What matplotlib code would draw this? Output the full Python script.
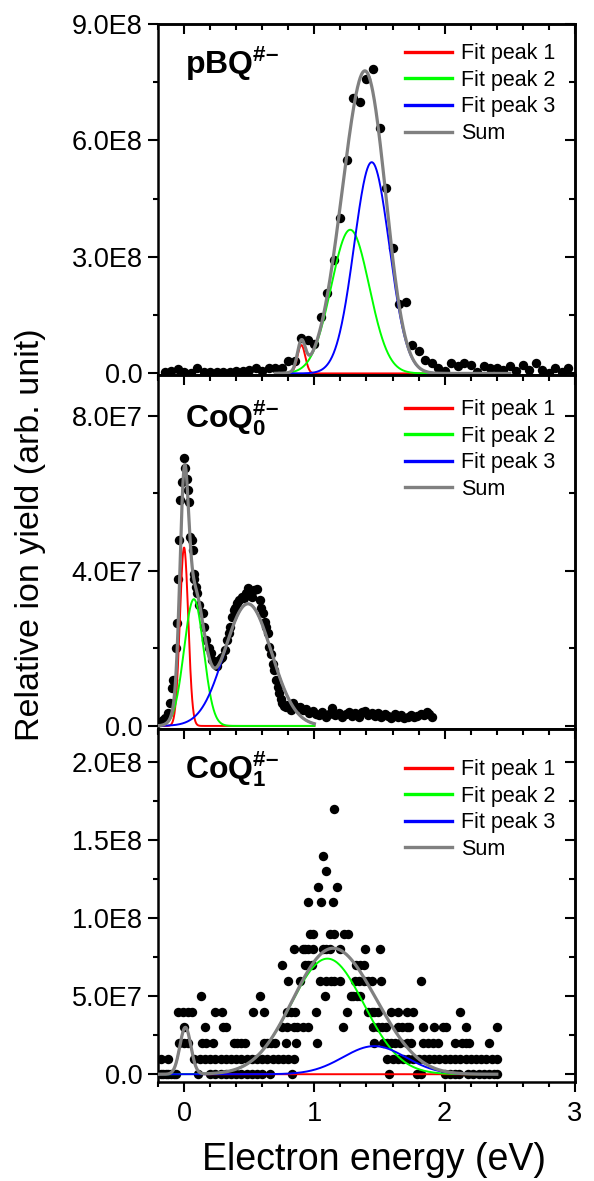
import numpy as np
import matplotlib
matplotlib.use("Agg")
import matplotlib.pyplot as plt
from matplotlib.ticker import MultipleLocator, FuncFormatter, NullFormatter

plt.rcParams["font.family"] = ["Liberation Sans", "DejaVu Sans"]
plt.rcParams["mathtext.fontset"] = "custom"
plt.rcParams["mathtext.rm"] = "Liberation Sans"
plt.rcParams["mathtext.bf"] = "Liberation Sans:bold"
plt.rcParams["mathtext.it"] = "Liberation Sans:italic"

# ---------------------------------------------------------------
# pBQ (top panel), values in 1E8
# ---------------------------------------------------------------
pbq_x = [-0.15, -0.10, -0.05, 0.00, 0.05, 0.10, 0.15, 0.20, 0.25, 0.30,
         0.35, 0.40, 0.45, 0.50, 0.55, 0.60, 0.65, 0.70, 0.75, 0.80,
         0.85, 0.90, 0.95, 1.00, 1.05, 1.10, 1.15, 1.20, 1.25, 1.30,
         1.35, 1.40, 1.45, 1.50, 1.55, 1.60, 1.65, 1.70, 1.75, 1.80,
         1.85, 1.90, 1.95, 2.00, 2.05, 2.10, 2.15, 2.20, 2.25, 2.30,
         2.35, 2.40, 2.45, 2.50, 2.55, 2.60, 2.65, 2.70, 2.75, 2.80,
         2.85, 2.90, 2.95]
pbq_y = [0.03, 0.05, 0.11, 0.03, 0.00, 0.15, 0.03, 0.03, 0.03, 0.03,
         0.03, 0.05, 0.07, 0.09, 0.15, 0.07, 0.15, 0.15, 0.15, 0.31,
         0.33, 0.91, 0.86, 0.76, 1.46, 2.07, 2.93, 4.00, 5.49, 7.10,
         7.00, 7.57, 7.85, 6.33, 4.77, 3.23, 1.79, 1.83, 0.73, 0.57,
         0.34, 0.28, 0.13, 0.07, 0.28, 0.20, 0.26, 0.22, 0.04, 0.20,
         0.13, 0.13, 0.09, 0.20, 0.07, 0.22, 0.09, 0.28, 0.09, 0.00,
         0.15, 0.03, 0.15]
# gaussian fit peaks: (centre eV, amplitude, sigma eV)
pbq_peaks = [(0.90, 0.73e8, 0.030), (1.275, 3.70e8, 0.146), (1.44, 5.44e8, 0.135)]
pbq_fit_range = (0.70, 2.50)

# ---------------------------------------------------------------
# CoQ0 (middle panel), values in 1E7
# ---------------------------------------------------------------
coq0_x = [-0.183, -0.165, -0.145, -0.12, -0.105, -0.095, -0.083, -0.063, -0.058, -0.05,
          -0.038, -0.028, -0.013, -0.003, 0.01, 0.023, 0.03, 0.038, 0.048, 0.06,
          0.068, 0.073, 0.08, 0.088, 0.10, 0.118, 0.143, 0.155, 0.168, 0.188,
          0.205, 0.218, 0.243, 0.255, 0.268, 0.28, 0.293, 0.313, 0.33, 0.343,
          0.355, 0.368, 0.38, 0.393, 0.405, 0.423, 0.443, 0.458, 0.473, 0.493,
          0.505, 0.518, 0.54, 0.563, 0.58, 0.593, 0.605, 0.618, 0.63, 0.643,
          0.655, 0.668, 0.68, 0.693, 0.705, 0.718, 0.73, 0.743, 0.755, 0.768,
          0.78, 0.80, 0.818, 0.838, 0.86, 0.888, 0.91, 0.938, 0.96, 0.988,
          1.01, 1.038, 1.06, 1.088, 1.11, 1.138, 1.16, 1.188, 1.21, 1.24,
          1.265, 1.29, 1.315, 1.34, 1.365, 1.39, 1.415, 1.44, 1.465, 1.49,
          1.515, 1.54, 1.565, 1.59, 1.615, 1.64, 1.665, 1.69, 1.715, 1.74,
          1.765, 1.79, 1.815, 1.84, 1.865, 1.88, 1.90]
coq0_y = [0.11, 0.15, 0.20, 0.33, 0.60, 0.97, 1.18, 2.00, 2.65, 3.78,
          4.79, 5.82, 6.29, 6.92, 6.64, 6.38, 6.08, 5.78, 4.88, 4.79,
          4.53, 3.93, 3.80, 3.59, 3.42, 3.12, 2.90, 2.56, 2.22, 2.00,
          1.87, 1.70, 1.61, 1.55, 1.70, 1.75, 1.79, 1.96, 2.22, 2.40,
          2.56, 2.80, 2.99, 3.05, 3.16, 3.25, 3.33, 3.30, 3.42, 3.55,
          3.45, 3.33, 3.50, 3.52, 3.25, 3.05, 2.90, 2.69, 2.55, 2.39,
          2.04, 1.85, 1.60, 1.44, 1.18, 1.00, 0.84, 0.70, 0.58, 0.52,
          0.50, 0.55, 0.42, 0.58, 0.48, 0.50, 0.40, 0.44, 0.33, 0.38,
          0.30, 0.28, 0.36, 0.24, 0.32, 0.46, 0.27, 0.33, 0.24, 0.31,
          0.36, 0.26, 0.34, 0.24, 0.35, 0.39, 0.27, 0.34, 0.25, 0.33,
          0.24, 0.31, 0.26, 0.21, 0.30, 0.22, 0.27, 0.20, 0.24, 0.29,
          0.22, 0.25, 0.30, 0.27, 0.37, 0.31, 0.22]
coq0_peaks = [(0.00, 4.60e7, 0.032), (0.075, 3.27e7, 0.075), (0.49, 3.15e7, 0.18)]
coq0_fit_range = (-0.20, 1.00)

# ---------------------------------------------------------------
# CoQ1 (bottom panel): x positions of the points on each count level
# (level n means n x 1E7)
# ---------------------------------------------------------------
coq1_rows = [
    [-0.18, -0.16, -0.14, -0.12, -0.10, -0.08, -0.06, 0.11, 0.20, 0.24, 0.28, 0.32,
     0.36, 0.40, 0.44, 0.48, 0.52, 0.56, 0.60, 0.66, 0.83, 1.57, 1.79, 1.82,
     2.00, 2.04, 2.08, 2.11, 2.18, 2.22, 2.26, 2.30, 2.34, 2.38, 2.40],
    [-0.18, -0.12, 0.08, 0.12, 0.16, 0.20, 0.24, 0.28, 0.32, 0.36, 0.40, 0.44,
     0.48, 0.52, 0.56, 0.60, 0.64, 0.68, 0.72, 0.76, 0.80, 0.84,
     1.56, 1.60, 1.64, 1.68, 1.72, 1.76, 1.80, 1.84, 1.88, 1.92, 1.96, 2.00,
     2.04, 2.08, 2.12, 2.16, 2.20, 2.24, 2.28, 2.32, 2.36, 2.40],
    [-0.04, 0.00, 0.03, 0.14, 0.17, 0.22, 0.38, 0.41, 0.44, 0.47, 0.61, 0.64,
     0.67, 0.70, 0.78, 0.86, 1.02, 1.46, 1.53, 1.56, 1.59, 1.62, 1.66, 1.71,
     1.74, 1.83, 1.87, 1.91, 1.95, 2.08, 2.13, 2.16, 2.19, 2.34],
    [0.00, 0.16, 0.30, 0.32, 0.75, 0.79, 0.84, 0.87, 0.91, 0.95, 1.22, 1.45,
     1.49, 1.52, 1.55, 1.64, 1.67, 1.71, 1.73, 1.83, 1.92, 1.99, 2.01, 2.16, 2.40],
    [-0.05, -0.01, 0.03, 0.06, 0.24, 0.29, 0.53, 0.61, 0.79, 0.82, 0.85, 1.01,
     1.25, 1.41, 1.44, 1.46, 1.49, 1.59, 1.64, 1.71, 1.76, 2.12],
    [0.13, 0.58, 1.08, 1.28, 1.30, 1.33, 1.35],
    [0.80, 0.89, 1.04, 1.09, 1.13, 1.15, 1.20, 1.31, 1.34, 1.38, 1.41, 1.44,
     1.51, 1.82],
    [0.75, 0.93, 0.95, 0.98, 1.32, 1.35, 1.38],
    [0.84, 0.91, 0.93, 0.95, 0.99, 1.07, 1.09, 1.12, 1.20, 1.39, 1.50],
    [0.97, 0.99, 1.12, 1.15, 1.23, 1.26],
    [],
    [0.95, 1.05, 1.14],
    [1.03, 1.17],
    [1.09],
    [1.07],
    [],
    [],
    [1.15],
]
coq1_step = 1e7
coq1_peaks = [(0.01, 3.0e7, 0.042), (1.10, 7.4e7, 0.28), (1.46, 1.8e7, 0.24)]
coq1_fit_range = (-0.20, 2.40)

fit_colors = ["#FF0000", "#00FF00", "#0000FF"]
sum_color = "#808080"
labels = ["Fit peak 1", "Fit peak 2", "Fit peak 3", "Sum"]
DOT = 46


def sci_fmt(v, pos):
    if abs(v) < 1:
        return "0.0"
    e = int(np.floor(np.log10(abs(v)) + 1e-9))
    return f"{v / 10 ** e:.1f}E{e}"


def gauss(x, c, a, s):
    return a * np.exp(-(x - c) ** 2 / (2 * s ** 2))


def style_axis(ax, ylim, ymaj, ymin, show_x):
    ax.set_xlim(-0.2, 3.0)
    ax.set_ylim(*ylim)
    ax.xaxis.set_major_locator(MultipleLocator(1))
    ax.xaxis.set_minor_locator(MultipleLocator(0.2))
    ax.yaxis.set_major_locator(MultipleLocator(ymaj))
    ax.yaxis.set_minor_locator(MultipleLocator(ymin))
    ax.yaxis.set_major_formatter(FuncFormatter(sci_fmt))
    if not show_x:
        ax.xaxis.set_major_formatter(NullFormatter())
    for sp in ax.spines.values():
        sp.set_linewidth(1.8)
    ax.tick_params(which="both", direction="out", width=1.5, labelsize=19.5, pad=4)
    ax.tick_params(which="major", length=7)
    ax.tick_params(which="minor", length=3.5)
    ax.tick_params(axis="x", which="major", pad=7)

    # inward ticks on top and right
    top = ax.secondary_xaxis("top")
    top.xaxis.set_major_locator(MultipleLocator(1))
    top.xaxis.set_minor_locator(MultipleLocator(0.2))
    top.xaxis.set_major_formatter(NullFormatter())
    top.tick_params(which="both", direction="in", width=1.5)
    top.tick_params(which="major", length=7)
    top.tick_params(which="minor", length=4)
    top.spines["top"].set_linewidth(1.8)
    right = ax.secondary_yaxis("right")
    right.yaxis.set_major_locator(MultipleLocator(ymaj))
    right.yaxis.set_minor_locator(MultipleLocator(ymin))
    right.yaxis.set_major_formatter(NullFormatter())
    right.tick_params(which="both", direction="in", width=1.5)
    right.tick_params(which="major", length=7)
    right.tick_params(which="minor", length=4)
    right.spines["right"].set_linewidth(1.8)


def draw_fits(ax, peaks, fit_range, leg_y):
    xf = np.linspace(fit_range[0], fit_range[1], 600)
    total = np.zeros_like(xf)
    handles = []
    for (c, a, s), col in zip(peaks, fit_colors):
        yf = gauss(xf, c, a, s)
        total += yf
        h, = ax.plot(xf, yf, color=col, lw=1.4, zorder=3)
        handles.append(h)
    h, = ax.plot(xf, total, color=sum_color, lw=2.3, zorder=4)
    handles.append(h)
    leg = ax.legend(handles, labels, loc="upper left", bbox_to_anchor=(0.592, leg_y),
                    frameon=False, fontsize=15.5, handlelength=2.2, handletextpad=0.4,
                    labelspacing=0.26, borderpad=0, borderaxespad=0)
    for ln in leg.get_lines():
        ln.set_linewidth(2.4)


fig = plt.figure(figsize=(5.94, 11.81), dpi=100)
ax1 = fig.add_axes([0.266, 0.6825, 0.702, 0.2972])
ax2 = fig.add_axes([0.266, 0.3827, 0.702, 0.2998])
ax3 = fig.add_axes([0.266, 0.0838, 0.702, 0.2989])

# top panel
ax1.scatter(pbq_x, np.array(pbq_y) * 1e8, s=DOT, color="black", linewidths=0, zorder=2)
draw_fits(ax1, pbq_peaks, pbq_fit_range, 0.945)
style_axis(ax1, (-4e6, 9e8), 3e8, 1.5e8, False)
ax1.text(0.065, 0.858, r"$\mathbf{pBQ}^{\mathbf{\#–}}$", transform=ax1.transAxes,
         fontsize=23, va="baseline", ha="left")

# middle panel
ax2.scatter(coq0_x, np.array(coq0_y) * 1e7, s=DOT, color="black", linewidths=0, zorder=2)
draw_fits(ax2, coq0_peaks, coq0_fit_range, 0.932)
style_axis(ax2, (-8e5, 9.05e7), 4e7, 2e7, False)
ax2.text(0.065, 0.853, r"$\mathbf{CoQ}_{\mathbf{0}}^{\mathbf{\#–}}$", transform=ax2.transAxes,
         fontsize=23, va="baseline", ha="left")

# bottom panel
c1x, c1y = [], []
for n, row in enumerate(coq1_rows):
    c1x += row
    c1y += [n * coq1_step] * len(row)
ax3.scatter(c1x, c1y, s=DOT, color="black", linewidths=0, zorder=2)
draw_fits(ax3, coq1_peaks, coq1_fit_range, 0.915)
style_axis(ax3, (-5e6, 2.21e8), 5e7, 2.5e7, True)
ax3.text(0.065, 0.861, r"$\mathbf{CoQ}_{\mathbf{1}}^{\mathbf{\#–}}$", transform=ax3.transAxes,
         fontsize=23, va="baseline", ha="left")

fig.text(0.052, 1 - 535 / 1181, "Relative ion yield (arb. unit)", rotation=90,
         ha="center", va="center", fontsize=24.5)
fig.text(374 / 594, 1 - 1160 / 1181, "Electron energy (eV)", ha="center", va="center",
         fontsize=27)

fig.savefig("out.png", dpi=100)
